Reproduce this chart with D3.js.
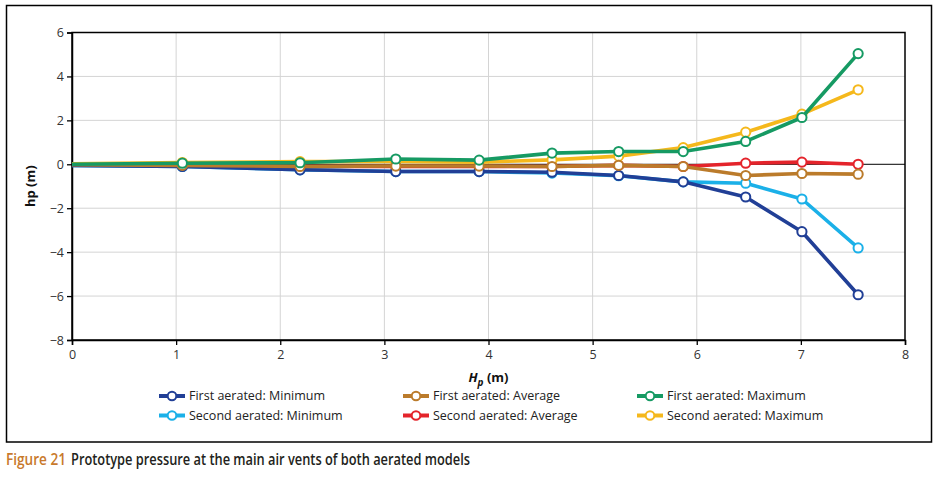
<!DOCTYPE html>
<html>
<head>
<meta charset="utf-8">
<script src="https://cdn.jsdelivr.net/npm/d3@7"></script>
<style>
  body { margin: 0; background: #fff; }
  text { font-family: "Open Sans", "Noto Sans", sans-serif; }
</style>
</head>
<body>
<div id="chart"></div>
<script>
// chart data
var hpX = [0, 1.06, 2.19, 3.11, 3.91, 4.61, 5.25, 5.87, 6.47, 7.01, 7.55];
var firstMin  = [-0.05, -0.10, -0.25, -0.33, -0.33, -0.36, -0.51, -0.80, -1.49, -3.07, -5.94];
var firstAvg  = [-0.02, -0.05, -0.10, -0.08, -0.08, -0.10, -0.05, -0.10, -0.51, -0.42, -0.45];
var firstMax  = [0.00, 0.05, 0.07, 0.24, 0.19, 0.51, 0.58, 0.58, 1.04, 2.13, 5.04];
var secondMin = [-0.05, -0.10, -0.25, -0.33, -0.33, -0.40, -0.52, -0.80, -0.86, -1.58, -3.81];
var secondAvg = [-0.02, -0.05, -0.10, -0.10, -0.10, -0.10, -0.05, -0.10, 0.05, 0.10, 0.00];
var secondMax = [0.02, 0.08, 0.12, 0.13, 0.10, 0.20, 0.37, 0.76, 1.46, 2.28, 3.39];
var xTicks = [0, 1, 2, 3, 4, 5, 6, 7, 8];
var yTicks = [-8, -6, -4, -2, 0, 2, 4, 6];

var seriesNames = ["First aerated: Minimum", "First aerated: Average", "First aerated: Maximum",
                   "Second aerated: Minimum", "Second aerated: Average", "Second aerated: Maximum"];
var seriesValues = [firstMin, firstAvg, firstMax, secondMin, secondAvg, secondMax];
var seriesColors = ["#213f96", "#bb7b2b", "#169a63", "#1bb0e8", "#e4242b", "#f5b81c"];

var svgWidth = 936, svgHeight = 480;
var margin = {top: 32.5, right: 31, bottom: 140, left: 72};
var width = svgWidth - margin.left - margin.right;
var height = svgHeight - margin.top - margin.bottom;

var svg = d3.select("#chart").append("svg")
    .attr("width", svgWidth)
    .attr("height", svgHeight);

// outer frame
svg.append("rect")
    .attr("x", 6.5).attr("y", 5.5)
    .attr("width", 925).attr("height", 436.5)
    .attr("fill", "none").attr("stroke", "#000").attr("stroke-width", 1.5);

var chartGroup = svg.append("g")
    .attr("transform", `translate(${margin.left}, ${margin.top})`);

var xScale = d3.scaleLinear().domain([0, 8]).range([0, width]);
var yScale = d3.scaleLinear().domain([-8, 6]).range([height, 0]);

// gridlines
chartGroup.append("g")
    .selectAll("line.gx")
    .data(xTicks.slice(1, -1))
    .enter().append("line")
    .attr("x1", d => xScale(d)).attr("x2", d => xScale(d))
    .attr("y1", 0).attr("y2", height)
    .attr("stroke", "#d4d4d4").attr("stroke-width", 1);

chartGroup.append("g")
    .selectAll("line.gy")
    .data(yTicks.filter(d => d != 0 && d != 6 && d != -8))
    .enter().append("line")
    .attr("x1", 0).attr("x2", width)
    .attr("y1", d => yScale(d)).attr("y2", d => yScale(d))
    .attr("stroke", "#d4d4d4").attr("stroke-width", 1);

// zero line and frame
chartGroup.append("line")
    .attr("x1", 0).attr("x2", width)
    .attr("y1", yScale(0)).attr("y2", yScale(0))
    .attr("stroke", "#000").attr("stroke-width", 1);

chartGroup.append("rect")
    .attr("width", width).attr("height", height)
    .attr("fill", "none").attr("stroke", "#000").attr("stroke-width", 1.5);

// axes
var bottomAxis = d3.axisBottom(xScale).tickValues(xTicks).tickSize(5).tickPadding(5)
    .tickFormat(d3.format("d"));
var leftAxis = d3.axisLeft(yScale).tickValues(yTicks).tickSize(5).tickPadding(3)
    .tickFormat(d => d < 0 ? "\u2212" + Math.abs(d) : d);

var xAxisG = chartGroup.append("g")
    .attr("transform", `translate(0, ${height})`)
    .call(bottomAxis);
var yAxisG = chartGroup.append("g").call(leftAxis);

[xAxisG, yAxisG].forEach(function(g) {
    g.select(".domain").attr("stroke", "#000").attr("stroke-width", 1.5);
    g.selectAll(".tick line").attr("stroke", "#000").attr("stroke-width", 1.3);
    g.selectAll(".tick text")
      .attr("fill", "#333")
      .style("font-size", "12.5px")
      .style("font-family", "'Open Sans', sans-serif");
});

// axis labels
chartGroup.append("text")
    .attr("transform", "rotate(-90)")
    .attr("x", -height / 2)
    .attr("y", -37)
    .attr("text-anchor", "middle")
    .style("font-weight", "bold")
    .style("font-size", "13px")
    .attr("fill", "#111")
    .text("hp (m)");

var xLabel = chartGroup.append("text")
    .attr("x", width / 2)
    .attr("y", height + 42)
    .attr("text-anchor", "middle")
    .style("font-weight", "bold")
    .style("font-size", "13px")
    .attr("fill", "#111");
xLabel.append("tspan").style("font-style", "italic").text("H");
xLabel.append("tspan").style("font-style", "italic").style("font-size", "10px")
    .attr("dy", 4).text("p");
xLabel.append("tspan").attr("dy", -4).text(" (m)");

// lines and markers, second model drawn first so first model sits on top
var line = d3.line()
    .x((d, i) => xScale(hpX[i]))
    .y(d => yScale(d));

var drawOrder = [3, 4, 5, 0, 1, 2];
drawOrder.forEach(function(k) {
    var g = chartGroup.append("g");
    g.append("path")
      .datum(seriesValues[k])
      .attr("fill", "none")
      .attr("stroke", seriesColors[k])
      .attr("stroke-width", 3.6)
      .attr("stroke-linejoin", "round")
      .attr("d", line);
    g.selectAll("circle")
      .data(seriesValues[k].slice(1))
      .enter().append("circle")
      .attr("cx", (d, i) => xScale(hpX[i + 1]))
      .attr("cy", d => yScale(d))
      .attr("r", 4.6)
      .attr("fill", "#fff")
      .attr("stroke", seriesColors[k])
      .attr("stroke-width", 2);
});

// legend
var legendCols = [159, 403, 637];
var legendRows = [396, 415.5];
seriesNames.forEach(function(name, k) {
    var lx = legendCols[k % 3], ly = legendRows[Math.floor(k / 3)];
    var lg = svg.append("g").attr("transform", `translate(${lx}, ${ly})`);
    lg.append("line")
      .attr("x1", 0).attr("x2", 26).attr("y1", 0).attr("y2", 0)
      .attr("stroke", seriesColors[k]).attr("stroke-width", 4);
    lg.append("circle")
      .attr("cx", 13).attr("cy", 0).attr("r", 4.3)
      .attr("fill", "#fff").attr("stroke", seriesColors[k]).attr("stroke-width", 2);
    lg.append("text")
      .attr("x", 30).attr("y", 0).attr("dy", "0.35em")
      .style("font-size", "12.5px")
      .attr("fill", "#222")
      .text(name);
});

// caption
svg.append("text")
    .attr("x", 6).attr("y", 465)
    .style("font-size", "16px")
    .style("font-weight", "600")
    .attr("textLength", 60)
    .attr("lengthAdjust", "spacingAndGlyphs")
    .attr("fill", "#c8792b")
    .text("Figure 21");
svg.append("text")
    .attr("x", 71).attr("y", 465)
    .style("font-size", "16px")
    .style("font-weight", "600")
    .attr("textLength", 399)
    .attr("lengthAdjust", "spacingAndGlyphs")
    .attr("fill", "#231f20")
    .text("Prototype pressure at the main air vents of both aerated models");
</script>
</body>
</html>
